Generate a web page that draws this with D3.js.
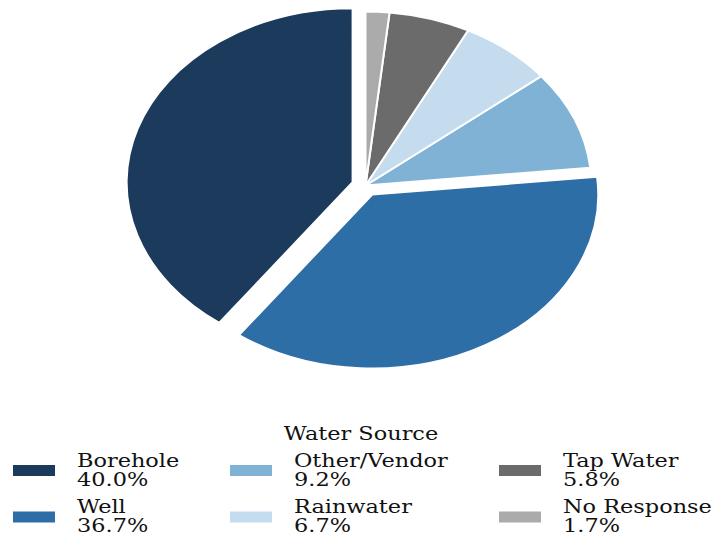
<!doctype html>
<html>
<head>
  <script src="https://d3js.org/d3.v7.min.js"></script>
  <style>
    body { margin: 0; background: #fff; }
    svg { display: block; }
  </style>
</head>
<body>
<div id="container"></div>
<script>
  // data
  var sources = ["Borehole", "Well", "Other/Vendor", "Rainwater", "Tap Water", "No Response"];
  var shares = [40.0, 36.7, 9.2, 6.7, 5.8, 1.7];
  var exploded = [0.06, 0.06, 0, 0, 0, 0];
  var colors = ["#1b3a5c", "#2e6ea6", "#7fb2d5", "#c5dcef", "#6b6b6b", "#ababab"];
  var legendTitle = "Water Source";

  var W = 717, H = 535;
  var cx = 365.5, cy = 185.5, rx = 226, ry = 174;
  var textStretch = 1.18;

  var svg = d3.select("#container").append("svg")
    .attr("width", W)
    .attr("height", H);

  var rows = sources.map(function(s, i) {
    return { name: s, value: shares[i], explode: exploded[i], color: colors[i] };
  });

  // counter-clockwise from 12 o'clock, like the original
  var pie = d3.pie().sort(null).value(function(d) { return d.value; })
    .startAngle(0).endAngle(-2 * Math.PI);
  var arc = d3.arc().innerRadius(0).outerRadius(ry);

  var g = svg.append("g")
    .attr("transform", "translate(" + cx + "," + cy + ") scale(" + (rx / ry) + ",1)");

  g.selectAll("path")
    .data(pie(rows))
    .enter()
    .append("path")
    .attr("d", arc)
    .attr("fill", function(d) { return d.data.color; })
    .attr("stroke", "#fff")
    .attr("stroke-width", 2)
    .attr("vector-effect", "non-scaling-stroke")
    .attr("transform", function(d) {
      var mid = (d.startAngle + d.endAngle) / 2;
      var off = d.data.explode * ry;
      return "translate(" + (Math.sin(mid) * off) + "," + (-Math.cos(mid) * off) + ")";
    });

  // legend
  var font = "'DejaVu Serif', serif";
  var fs = 19;
  var legend = svg.append("g");

  legend.append("text")
    .attr("transform", "translate(361,439.5) scale(" + textStretch + ",1)")
    .attr("text-anchor", "middle")
    .style("font-family", font)
    .style("font-size", fs + "px")
    .attr("fill", "#111")
    .text(legendTitle);

  var colPatchX = [13, 230, 499];
  var colTextX = [77, 294, 563];
  var rowY = [452.5, 499];

  var items = legend.selectAll(".item")
    .data(rows)
    .enter()
    .append("g")
    .attr("class", "item")
    .attr("transform", function(d, i) {
      return "translate(0," + rowY[i % 2] + ")";
    });

  items.append("rect")
    .attr("x", function(d, i) { return colPatchX[Math.floor(i / 2)]; })
    .attr("y", 12.5)
    .attr("width", 42)
    .attr("height", 11)
    .attr("fill", function(d) { return d.color; });

  var labels = items.append("text")
    .attr("transform", function(d, i) {
      return "translate(" + colTextX[Math.floor(i / 2)] + ",0) scale(" + textStretch + ",1)";
    })
    .style("font-family", font)
    .style("font-size", fs + "px")
    .attr("fill", "#111");

  labels.append("tspan")
    .attr("x", 0)
    .attr("y", 14)
    .text(function(d) { return d.name; });
  labels.append("tspan")
    .attr("x", 0)
    .attr("y", 33.5)
    .text(function(d) { return d.value.toFixed(1) + "%"; });
</script>
</body>
</html>
